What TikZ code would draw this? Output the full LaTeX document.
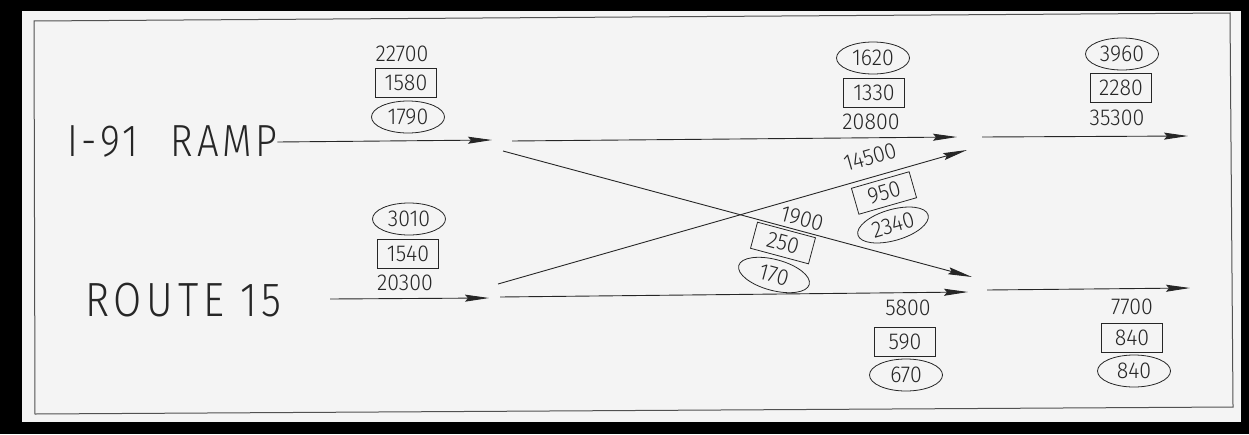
\documentclass[tikz,border=0pt]{standalone}
\usepackage{fontspec}
\newfontfamily\cadfont{Fira Sans Light}[FakeStretch=0.93]
\newfontfamily\cadname{Fira Sans Light}[FakeStretch=0.85]
\usetikzlibrary{arrows.meta,shapes.geometric}
\definecolor{sheet}{HTML}{F4F4F4}
\definecolor{ink}{HTML}{262626}
\tikzset{
  frame/.style={draw=ink!80, line width=1pt},
  road/.style={draw=ink, line width=0.9pt,
    -{Stealth[length=24pt,width=7pt,inset=3pt]}},
  num/.style={font=\cadfont\fontsize{23}{23}\selectfont, text=ink, inner sep=0pt},
  volbox/.style={num, draw=ink, line width=0.8pt, minimum width=61pt, minimum height=29pt},
  volell/.style={num, ellipse, draw=ink, line width=0.8pt, minimum width=73pt, minimum height=32pt},
  rampname/.style={font=\cadname\fontsize{45}{45}\selectfont\addfontfeature{LetterSpace=8},
    text=ink, inner sep=0pt},
  routename/.style={font=\cadname\fontsize{48}{48}\selectfont\addfontfeature{LetterSpace=10},
    text=ink, inner sep=0pt}
}
\begin{document}
\begin{tikzpicture}[x=1pt,y=-1pt]
\useasboundingbox (0,0) rectangle (1249,434);
% sheet and border
\fill[black] (0,0) rectangle (1249,434);
\fill[sheet] (22,11) rectangle (1241,422);
\draw[frame] (34,21) -- (1230,13) -- (1233,407) -- (35,414) -- cycle;

% approach names
\node[rampname, anchor=west] (ramp) at (67,142) {I-91\hspace{18pt} RAMP};
\node[routename, anchor=west] (route) at (85,300) {ROUTE 15};

% lane end points
\coordinate (r1) at (492,140);
\coordinate (s0) at (330,299);
\coordinate (s1) at (489,298);
\coordinate (t0) at (512,141);
\coordinate (t1) at (957,137);
\coordinate (t2) at (982,137);
\coordinate (t3) at (1188,136);
\coordinate (b0) at (500,297);
\coordinate (b1) at (968,292);
\coordinate (b2) at (987,290);
\coordinate (b3) at (1190,288);
\coordinate (d0) at (503,151);
\coordinate (d1) at (972,277);
\coordinate (u0) at (498,284);
\coordinate (u1) at (967,150);

% movements
\draw[road] (ramp.east) -- (r1);
\draw[road] (s0) -- (s1);
\draw[road] (t0) -- (t1);
\draw[road] (t2) -- (t3);
\draw[road] (b0) -- (b1);
\draw[road] (b2) -- (b3);
\draw[road] (d0) -- (d1);
\draw[road] (u0) -- (u1);

% I-91 ramp approach volumes
\node[num] (a-adt) at (402,54) {22700};
\node[volbox] (a-box) at (406,83) {1580};
\node[volell] (a-ell) at (408,117) {1790};

% Route 15 approach volumes
\node[volell] (b-ell) at (409,219) {3010};
\node[volbox] (b-box) at (408,254) {1540};
\node[num] (b-adt) at (405,283) {20300};

% through movement, north
\node[volell] (c-ell) at (873,58) {1620};
\node[volbox] (c-box) at (874,93) {1330};
\node[num] (c-adt) at (871,122) {20800};

% departure, north
\node[volell] (d-ell) at (1122,54) {3960};
\node[volbox] (d-box) at (1121,88) {2280};
\node[num] (d-adt) at (1117,118) {35300};

% through movement, south
\node[num] (e-adt) at (908,308) {5800};
\node[volbox] (e-box) at (905,342) {590};
\node[volell] (e-ell) at (906,375) {670};

% departure, south
\node[num] (f-adt) at (1132,307) {7700};
\node[volbox] (f-box) at (1132,338) {840};
\node[volell] (f-ell) at (1134,371) {840};

% Route 15 to north crossing
\node[num, rotate=16] (g-adt) at (870,157) {14500};
\node[volbox, rotate=16, minimum width=60pt, minimum height=27pt] (g-box) at (884,193) {950};
\node[volell, rotate=16, minimum height=31pt] (g-ell) at (893,225) {2340};

% ramp to south crossing
\node[num, rotate=-15] (h-adt) at (802,219) {1900};
\node[volbox, rotate=-15, minimum width=60pt, minimum height=27pt] (h-box) at (783,243) {250};
\node[volell, rotate=-15, minimum height=31pt] (h-ell) at (774,275) {170};
\end{tikzpicture}
\end{document}
